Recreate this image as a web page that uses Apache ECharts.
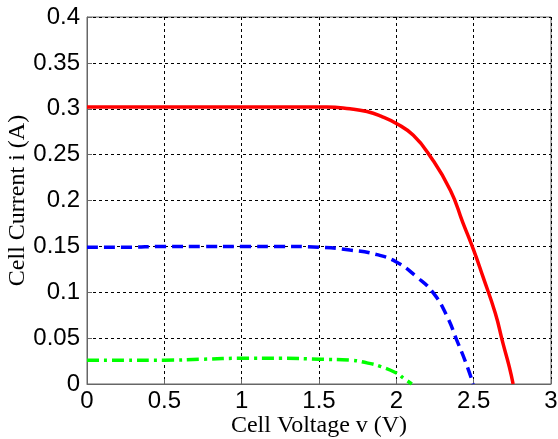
<!DOCTYPE html>
<html>
<head>
<meta charset="utf-8">
<script src="https://cdn.jsdelivr.net/npm/echarts@6/dist/echarts.min.js"></script>
<style>
  html, body { margin: 0; padding: 0; background: #fff; }
  #chart { width: 558px; height: 439px; }
</style>
</head>
<body>
<div id="chart"></div>
<script>
// Cell I-V characteristics at three irradiance levels
var redV   = [0, 0.2, 0.4, 0.6, 0.8, 1.0, 1.2, 1.4, 1.55, 1.7, 1.81, 1.9, 2.0, 2.11, 2.22, 2.35, 2.43, 2.5, 2.56, 2.64, 2.69, 2.73, 2.755];
var redI   = [0.302, 0.302, 0.302, 0.302, 0.302, 0.302, 0.302, 0.302, 0.302, 0.300, 0.297, 0.292, 0.284, 0.271, 0.248, 0.211, 0.176, 0.146, 0.117, 0.077, 0.044, 0.019, 0];
var blueV  = [0, 0.25, 0.5, 0.75, 1.0, 1.25, 1.5, 1.7, 1.875, 2.0, 2.13, 2.24, 2.33, 2.39, 2.45, 2.497];
var blueI  = [0.149, 0.149, 0.150, 0.150, 0.150, 0.150, 0.149, 0.146, 0.141, 0.133, 0.117, 0.099, 0.073, 0.048, 0.023, 0];
var greenV = [0, 0.25, 0.5, 0.75, 1.0, 1.25, 1.5, 1.7, 1.81, 1.9, 2.0, 2.05, 2.1];
var greenI = [0.026, 0.026, 0.026, 0.027, 0.028, 0.028, 0.027, 0.026, 0.023, 0.019, 0.012, 0.006, 0];
var xTicks = [0, 0.5, 1, 1.5, 2, 2.5, 3];
var yTicks = [0, 0.05, 0.1, 0.15, 0.2, 0.25, 0.3, 0.35, 0.4];

function pairs(v, i) {
  return v.map(function (x, k) { return [x, i[k]]; });
}

var chart = echarts.init(document.getElementById('chart'), null, { renderer: 'canvas' });

var gridLine = { show: true, lineStyle: { color: '#000', type: [3, 3], width: 1 } };
var tickFont = { fontFamily: 'Liberation Sans, Arial, sans-serif', fontSize: 24, color: '#000' };
var nameFont = { fontFamily: 'Liberation Serif, Times New Roman, serif', fontSize: 24, color: '#000' };
var fmt = function (v) { return String(+v.toFixed(2)); };

chart.setOption({
  animation: false,
  grid: {
    left: 87, right: 7, top: 17, bottom: 55,
    containLabel: false, outerBoundsMode: 'none',
    show: true, borderColor: '#666', borderWidth: 1
  },
  xAxis: {
    type: 'value', min: xTicks[0], max: xTicks[xTicks.length - 1], interval: 0.5,
    name: 'Cell Voltage v (V)', nameLocation: 'middle', nameGap: 30, nameMoveOverlap: false,
    nameTextStyle: nameFont,
    axisLine: { show: true, lineStyle: { color: '#666' } },
    axisTick: { show: true, inside: true, length: 5, lineStyle: { color: '#666' } },
    axisLabel: Object.assign({ margin: 5, formatter: fmt }, tickFont),
    splitLine: gridLine
  },
  yAxis: {
    type: 'value', min: yTicks[0], max: yTicks[yTicks.length - 1], interval: 0.05,
    name: 'Cell Current i (A)', nameLocation: 'middle', nameGap: 57, nameRotate: 90, nameMoveOverlap: false,
    nameTextStyle: nameFont,
    axisLine: { show: true, lineStyle: { color: '#666' } },
    axisTick: { show: true, inside: true, length: 5, lineStyle: { color: '#666' } },
    axisLabel: Object.assign({ margin: 7, formatter: fmt }, tickFont),
    splitLine: gridLine
  },
  series: [
    {
      type: 'line', data: pairs(redV, redI), showSymbol: false, smooth: 0.5,
      lineStyle: { color: '#ff0000', width: 3.5, type: 'solid' }, z: 5
    },
    {
      type: 'line', data: pairs(blueV, blueI), showSymbol: false, smooth: 0.5,
      lineStyle: { color: '#0000ff', width: 3.5, type: [11, 6] }, z: 4
    },
    {
      type: 'line', data: pairs(greenV, greenI), showSymbol: false, smooth: 0.5,
      lineStyle: { color: '#00ff00', width: 3.5, type: [12, 5, 3, 5] }, z: 3
    }
  ]
});
</script>
</body>
</html>
